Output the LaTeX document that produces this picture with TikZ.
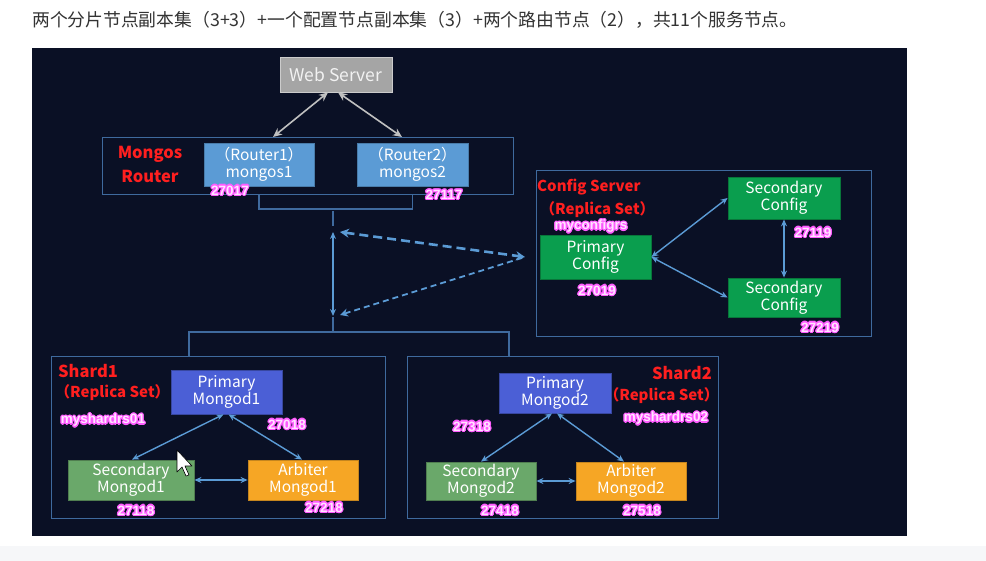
\documentclass[tikz,border=0pt]{standalone}
\usepackage{fontspec}
\setmainfont{Noto Sans CJK SC}
\newfontfamily\portfont{Liberation Sans}
\usepackage{contour}
\contourlength{1.1pt}
\contournumber{16}
\usetikzlibrary{arrows.meta}
\definecolor{bgc}{HTML}{0A1025}
\definecolor{framec}{HTML}{3F6A9E}
\definecolor{webc}{HTML}{A5A5A5}
\definecolor{routerc}{HTML}{5B9BD5}
\definecolor{cfgc}{HTML}{0A9E4E}
\definecolor{primc}{HTML}{4B5FD6}
\definecolor{secc}{HTML}{6AA86A}
\definecolor{arbc}{HTML}{F6A625}
\definecolor{arrowc}{HTML}{5B9BD5}
\definecolor{greyarr}{HTML}{C0C0C0}
\definecolor{redc}{HTML}{FF1F1F}
\definecolor{pinkfill}{HTML}{FFE4FF}
\definecolor{pinkline}{HTML}{FF5CFF}
\definecolor{titlec}{HTML}{333333}
\definecolor{stripc}{HTML}{F6F7F9}
\begin{document}
\begin{tikzpicture}[x=1pt,y=-1pt,
  box/.style={rectangle, inner sep=0pt, align=center, text=white, line width=0.8pt,
    font=\fontsize{15.5}{17}\selectfont},
  frame/.style={rectangle, draw=framec, line width=0.9pt, inner sep=0pt},
  port/.style={inner sep=0pt, text=pinkfill, font=\portfont\bfseries\fontsize{13.5}{14}\selectfont},
  redlbl/.style={inner sep=0pt, text=redc, align=center, font=\bfseries\fontsize{16.5}{24}\selectfont},
  redsub/.style={inner sep=0pt, text=redc, font=\bfseries\fontsize{15}{16}\selectfont},
  arr/.style={draw=arrowc, line width=1.4pt, {Stealth[length=7pt,width=6pt]}-{Stealth[length=7pt,width=6pt]}},
  garr/.style={draw=greyarr, line width=1.6pt, {Stealth[length=9pt,width=8pt]}-{Stealth[length=9pt,width=8pt]}},
  conn/.style={draw=framec, line width=1.2pt}
]
\useasboundingbox (0,0) rectangle (986,561);
\fill[white] (0,0) rectangle (986,561);
\fill[stripc] (0,546) rectangle (986,561);
\fill[bgc] (32,48) rectangle (907,536);

% title
\node[anchor=west, inner sep=0pt, text=titlec, font=\fontsize{17.8}{20}\selectfont] (title) at (32,20)
  {两个分片节点副本集（3+3）+一个配置节点副本集（3）+两个路由节点（2），共11个服务节点。};

% frames
\node[frame, minimum width=411pt, minimum height=57pt] (mframe) at (307.5,165.5) {};
\node[frame, minimum width=335pt, minimum height=166pt] (cframe) at (703.5,253) {};
\node[frame, minimum width=334pt, minimum height=162pt] (s1frame) at (218,437) {};
\node[frame, minimum width=311pt, minimum height=162pt] (s2frame) at (562.5,437) {};

% web server
\node[box, fill=webc, draw=gray!40, minimum width=112pt, minimum height=35pt, text=white!95!black,
  font=\fontsize{17.5}{19}\selectfont] (web) at (336,74.5) {Web Server};

% routers
\node[box, fill=routerc, draw=routerc!80!black, minimum width=110pt, minimum height=43pt] (r1) at (259,164.5) {（Router1）\\mongos1};
\node[box, fill=routerc, draw=routerc!80!black, minimum width=111pt, minimum height=43pt] (r2) at (412.5,164.5) {（Router2）\\mongos2};
\node[redlbl] (mlbl) at (150,164) {Mongos\\Router};
\node[port] (p27017) at (230,191) {\contour{pinkline}{27017}};
\node[port] (p27117) at (444,195) {\contour{pinkline}{27117}};

% config
\node[box, fill=cfgc, draw=cfgc!75!black, minimum width=111pt, minimum height=44pt] (pc) at (595.5,257) {Primary\\Config};
\node[box, fill=cfgc, draw=cfgc!75!black, minimum width=112pt, minimum height=42pt] (sc1) at (784,198) {Secondary\\Config};
\node[box, fill=cfgc, draw=cfgc!75!black, minimum width=112pt, minimum height=39pt] (sc2) at (784,297.5) {Secondary\\Config};
\node[redsub, anchor=west] (clbl) at (537,187) {Config Server};
\node[redsub, anchor=west] (crs) at (540,210) {（Replica Set）};
\node[port] (mycfg) at (591,227) {\contour{pinkline}{myconfigrs}};
\node[port] (p27019) at (597,291) {\contour{pinkline}{27019}};
\node[port] (p27119) at (813,233) {\contour{pinkline}{27119}};
\node[port] (p27219) at (820,328) {\contour{pinkline}{27219}};

% shard1
\node[box, fill=primc, draw=primc!75!black, minimum width=111pt, minimum height=44pt] (pm1) at (226.5,392) {Primary\\Mongod1};
\node[box, fill=secc, draw=secc!75!black, minimum width=126pt, minimum height=40pt] (sm1) at (131,480) {Secondary\\Mongod1};
\node[box, fill=arbc, draw=arbc!80!black, minimum width=110pt, minimum height=40pt] (am1) at (303,480) {Arbiter\\Mongod1};
\node[redsub, anchor=west, font=\bfseries\fontsize{16.5}{17}\selectfont] (s1lbl) at (58,371) {Shard1};
\node[redsub, anchor=west] (s1rs) at (55,393) {（Replica Set）};
\node[port] (myshard1) at (103,421) {\contour{pinkline}{myshardrs01}};
\node[port] (p27018) at (287,425) {\contour{pinkline}{27018}};
\node[port] (p27118) at (136,511) {\contour{pinkline}{27118}};
\node[port] (p27218) at (324,508) {\contour{pinkline}{27218}};

% shard2
\node[box, fill=primc, draw=primc!75!black, minimum width=112pt, minimum height=40pt] (pm2) at (555,393) {Primary\\Mongod2};
\node[box, fill=secc, draw=secc!75!black, minimum width=110pt, minimum height=38pt] (sm2) at (481,481) {Secondary\\Mongod2};
\node[box, fill=arbc, draw=arbc!80!black, minimum width=110pt, minimum height=38pt] (am2) at (631,481) {Arbiter\\Mongod2};
\node[redsub, anchor=east, font=\bfseries\fontsize{16.5}{17}\selectfont] (s2lbl) at (712,373) {Shard2};
\node[redsub, anchor=east] (s2rs) at (719,396) {（Replica Set）};
\node[port] (myshard2) at (666,419) {\contour{pinkline}{myshardrs02}};
\node[port] (p27318) at (472,427) {\contour{pinkline}{27318}};
\node[port] (p27418) at (500,511) {\contour{pinkline}{27418}};
\node[port] (p27518) at (642,511) {\contour{pinkline}{27518}};

% coordinates
\coordinate (wa) at (273,137);
\coordinate (wb) at (402,137);
\coordinate (bry) at (0,209);
\coordinate (stemtop) at (333,211);
\coordinate (stemmid) at (333,226);
\coordinate (arrtop) at (333,232);
\coordinate (arrbot) at (333,316);
\coordinate (stembot) at (333,317);
\coordinate (lowy) at (333,332);
\coordinate (lowl) at (189,332);
\coordinate (lowr) at (509,332);
\coordinate (dl1) at (340,232);
\coordinate (dr) at (525,257);
\coordinate (dl2) at (340,315);

% web server connectors
\draw[garr] ([xshift=-8pt]web.south) -- (wa);
\draw[garr] ([xshift=2pt]web.south) -- (wb);

% router bracket
\draw[conn] (r1.south |- mframe.south) -- (r1.south |- bry) -| (r2.south |- mframe.south);
\draw[conn] (stemtop) -- (stemmid);
\draw[arr, line width=1.6pt] (arrtop) -- (arrbot);
\draw[conn] (stembot) -- (lowy);
\draw[conn] (s1frame.north -| lowl) -- (lowl) -- (lowr) -- (s2frame.north -| lowr);

% dashed
\draw[draw=arrowc, line width=2.6pt, dash pattern=on 9pt off 5pt,
  {Stealth[length=9pt,width=9pt]}-{Stealth[length=9pt,width=9pt]}] (dl1) -- (dr);
\draw[draw=arrowc, line width=1.8pt, dash pattern=on 6pt off 4pt,
  {Stealth[length=8pt,width=8pt]}-] (dl2) -- (dr);

% config connectors
\draw[arr] (pc.east) -- (sc1.west);
\draw[arr] (pc.east) -- (sc2.west);
\draw[arr] (sc1.south) -- (sc2.north);

% shard1 connectors
\draw[arr] ([xshift=-3pt]pm1.south) -- ([xshift=1pt]sm1.north);
\draw[arr] ([xshift=2pt]pm1.south) -- ([xshift=-1pt]am1.north);
\draw[arr] (sm1.east) -- (am1.west);

% shard2 connectors
\draw[arr] ([xshift=-3pt]pm2.south) -- (sm2.north);
\draw[arr] ([xshift=2pt]pm2.south) -- ([xshift=-7pt]am2.north);
\draw[arr] (sm2.east) -- (am2.west);

% mouse cursor
\draw[fill=white, draw=black, line width=0.6pt, line join=round]
  (177,450) -- (177,472) -- (182,467) -- (186,476) -- (189,475) -- (185,466) -- (192,466) -- cycle;
\end{tikzpicture}
\end{document}
